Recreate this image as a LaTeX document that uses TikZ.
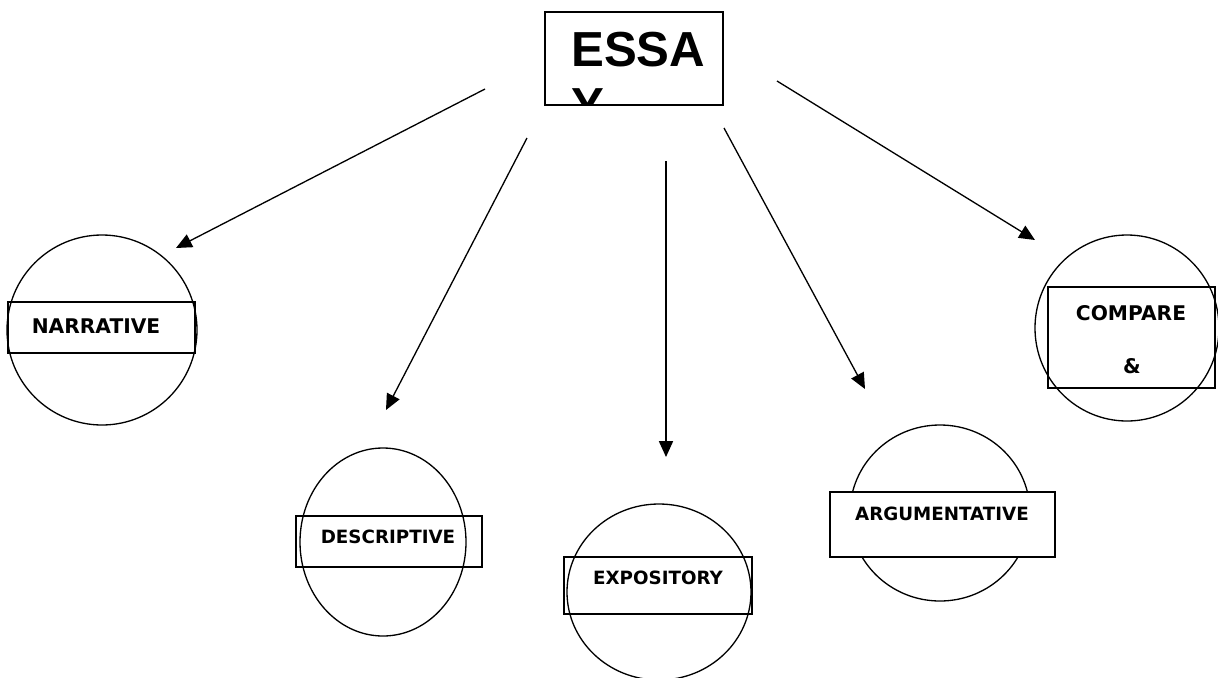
\documentclass[tikz,border=0pt]{standalone}
\usepackage{fontspec}
\setmainfont{DejaVu Sans}
\newfontfamily\essayfont{Liberation Sans}
\usetikzlibrary{arrows.meta}

\tikzset{
	typeline/.style={line width=0.75pt},
	typearrow/.style={line width=0.75pt,-{Triangle[length=9pt,width=8pt]}},
	typelabel/.style={inner sep=0pt,font=\bfseries\fontsize{10.4}{12}\selectfont},
	biglabel/.style={inner sep=0pt,font=\bfseries\fontsize{11.5}{14}\selectfont}
}

\begin{document}
\begin{tikzpicture}[x=0.02cm,y=-0.02cm]
	\useasboundingbox (0,0) rectangle (1218,677);
	
	% title box, the text runs over its lower edge and is cut off
	\draw[typeline] (545,12) rectangle (723,105);
	\begin{scope}
	\clip (545,12) rectangle (723,105);
	\node[anchor=north west,inner sep=0pt,align=left,font=\essayfont\bfseries\fontsize{28}{31.8}\selectfont] (Essay) at (571,32) {ESSA\\Y};
	\end{scope}
	
	% circles
	\draw[typeline] (102,330) ellipse [x radius=95,y radius=95];
	\draw[typeline] (383,542) ellipse [x radius=83,y radius=94];
	\draw[typeline] (659,592) ellipse [x radius=92,y radius=88];
	\draw[typeline] (940,513) ellipse [x radius=90,y radius=88];
	\draw[typeline] (1127,328) ellipse [x radius=92,y radius=93];
	
	% boxes over the circles
	\draw[typeline] (8,302) rectangle (195,353);
	\draw[typeline] (296,516) rectangle (482,567);
	\draw[typeline] (564,557) rectangle (752,614);
	\draw[typeline,fill=white] (830,492) rectangle (1055,557);
	\draw[typeline] (1048,287) rectangle (1215,388);
	
	\node[biglabel] (Narrative) at (96,326) {NARRATIVE};
	\node[typelabel] (Descriptive) at (388,537) {DESCRIPTIVE};
	\node[typelabel] (Expository) at (658,578) {EXPOSITORY};
	\node[typelabel] (Argumentative) at (942,514) {ARGUMENTATIVE};
	\node[biglabel] (Compare) at (1131,313) {COMPARE};
	\node[biglabel] (And) at (1132,366) {\&};
	
	% arrow ends
	\coordinate (NarrFrom) at (485,89);
	\coordinate (NarrTo)   at (176,248);
	\coordinate (DescFrom) at (527,138);
	\coordinate (DescTo)   at (386,410);
	\coordinate (ExpoFrom) at (666,161);
	\coordinate (ExpoTo)   at (666,457);
	\coordinate (ArguFrom) at (724,128);
	\coordinate (ArguTo)   at (865,389);
	\coordinate (CompFrom) at (777,81);
	\coordinate (CompTo)   at (1035,240);
	
	\draw[typearrow] (NarrFrom) -- (NarrTo);
	\draw[typearrow] (DescFrom) -- (DescTo);
	\draw[typearrow] (ExpoFrom) -- (ExpoTo);
	\draw[typearrow] (ArguFrom) -- (ArguTo);
	\draw[typearrow] (CompFrom) -- (CompTo);
\end{tikzpicture}
\end{document}
